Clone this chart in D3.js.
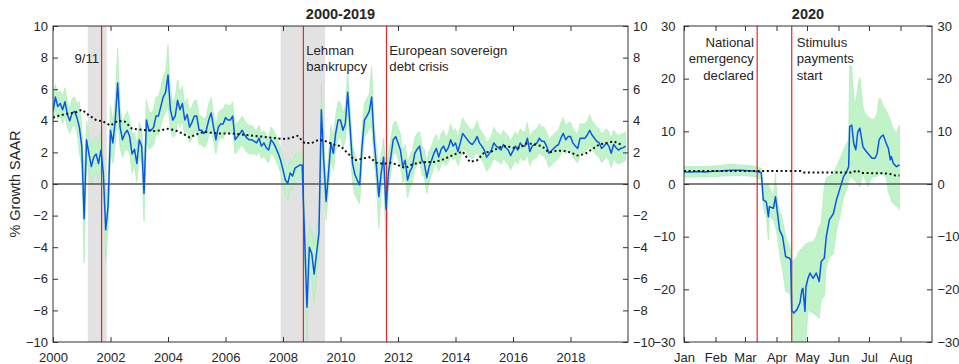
<!DOCTYPE html>
<html>
<head>
<meta charset="utf-8">
<script src="https://cdn.jsdelivr.net/npm/d3@7"></script>
<style>
  body { margin: 0; background: #fff; }
  text { font-family: "Liberation Sans", Arial, Helvetica, sans-serif; fill: #262626; }
</style>
</head>
<body>
<svg id="chart" width="959" height="364"></svg>
<script>
// ---- 2000-2019: monthly spending growth (% SAAR), Jan 2000 .. Dec 2019 ----
const firstYear = 2000;
const growthMonthly = [
  4.6, 5.5, 4.9, 5.1, 4.7, 5.2, 4.4, 4.0, 4.5, 4.6, 4.2, 3.6,
  2.4, -2.2, 2.8, 1.9, 1.1, 1.7, 1.9, 1.3, 2.15, 0.7, -2.9, -1.4,
  3.4, 2.6, 4.05, 6.4, 3.6, 2.8, 3.2, 3.4, 3.0, 1.9, 2.2, 1.3,
  2.8, 2.4, -0.6, 4.05, 3.4, 3.4, 3.6, 4.3, 4.3, 4.9, 5.5, 5.8,
  6.9, 4.7, 4.05, 4.3, 5.3, 4.7, 5.1, 4.05, 4.4, 3.6, 3.9, 4.3,
  4.3, 3.4, 3.4, 3.2, 3.4, 4.05, 4.5, 3.6, 2.8, 3.6, 3.8, 3.8,
  4.2, 4.05, 4.05, 4.3, 2.8, 3.0, 3.2, 3.4, 3.1, 2.9, 2.8, 2.8,
  2.7, 2.6, 2.9, 2.4, 2.6, 2.3, 2.15, 2.8, 2.6, 2.3, 1.94, 1.5,
  0.9, 0.25, 0.04, 0.7, 0.5, 1.0, 1.1, 1.2, 1.2, -3.3, -7.8, -4.0,
  -4.4, -5.7, -4.4, -3.1, 4.7, 1.5, -1.1, 0.7, 2.6, 1.94, 3.2, 4.05,
  4.05, 3.4, 3.8, 5.8, 3.6, 1.3, 0.6, 0.25, -0.06, 2.4, 4.05, 4.3,
  4.6, 5.5, 2.8, 1.1, -0.8, 0.7, 1.7, -1.6, 0.7, 1.7, 2.8, 3.0,
  2.6, 2.15, 1.1, 1.5, 0.25, 0.8, 1.1, 1.94, 2.2, 2.4, 1.5, 1.3,
  0.4, 1.1, 1.5, 1.94, 2.25, 1.7, 2.2, 2.4, 2.05, 2.3, 2.8, 2.4,
  2.6, 2.05, 2.6, 3.2, 3.0, 2.8, 2.6, 2.5, 2.7, 3.0, 2.6, 2.4,
  2.15, 1.7, 1.9, 2.15, 2.6, 2.4, 2.3, 2.15, 2.5, 2.3, 2.15, 1.8,
  2.1, 2.4, 2.15, 2.6, 2.4, 2.4, 2.9, 2.05, 2.4, 2.5, 2.6, 2.9,
  2.7, 2.7, 2.4, 1.94, 2.1, 2.25, 2.4, 2.5, 2.9, 3.2, 2.8, 3.0,
  3.0, 2.6, 2.4, 2.25, 2.9, 2.9, 2.9, 3.1, 3.4, 3.1, 2.9, 2.7,
  2.6, 2.25, 2.4, 2.6, 2.4, 1.94, 2.5, 2.3, 2.15, 2.25, 2.3, 2.4
];
// half-width of the confidence band around each monthly value
const bandHalfWidth = [
  0.9, 0.8, 0.8, 0.8, 0.9, 0.9, 0.8, 0.8, 0.9, 0.9, 0.9, 1.6,
  1.3, 2.8, 1.2, 1.1, 1.2, 1.2, 1.1, 1.2, 1.1, 1.2, 2.0, 1.5,
  1.5, 1.3, 1.5, 2.2, 1.3, 1.1, 1.1, 1.2, 1.1, 1.2, 1.1, 1.2,
  1.1, 1.1, 1.8, 1.3, 1.2, 1.1, 1.1, 1.2, 1.2, 1.2, 1.3, 1.3,
  1.9, 1.3, 1.1, 1.2, 1.3, 1.1, 1.1, 1.0, 1.0, 1.0, 1.0, 1.0,
  1.0, 0.9, 0.9, 0.9, 0.9, 1.0, 1.0, 0.9, 0.9, 0.9, 0.9, 0.9,
  0.9, 0.9, 0.9, 0.9, 0.9, 0.9, 0.9, 0.9, 0.9, 0.9, 0.9, 0.9,
  0.8, 0.8, 0.8, 0.8, 0.8, 0.8, 0.8, 0.8, 0.8, 0.8, 0.8, 0.8,
  0.9, 0.9, 1.0, 0.9, 0.9, 0.8, 0.8, 0.8, 0.9, 1.5, 2.2, 1.5,
  1.5, 1.8, 1.5, 1.4, 1.6, 1.4, 1.2, 1.2, 1.1, 1.1, 1.1, 1.2,
  1.1, 1.1, 1.1, 1.3, 1.2, 1.2, 1.3, 1.2, 1.2, 1.1, 1.1, 1.1,
  1.1, 1.9, 1.2, 1.2, 2.0, 1.2, 1.2, 2.6, 1.2, 1.1, 1.0, 1.0,
  1.0, 1.0, 1.0, 1.0, 1.1, 1.0, 1.0, 1.0, 1.0, 0.9, 0.9, 0.9,
  1.0, 1.0, 0.9, 0.9, 0.9, 0.9, 1.0, 1.0, 0.9, 0.9, 1.0, 0.9,
  0.9, 0.9, 1.0, 1.0, 0.9, 0.9, 0.9, 0.9, 0.9, 1.0, 0.9, 0.9,
  0.9, 0.9, 0.9, 0.9, 1.0, 0.9, 0.9, 0.9, 0.9, 0.9, 0.9, 0.9,
  0.9, 0.9, 0.9, 0.9, 0.9, 0.9, 1.0, 0.9, 0.9, 0.9, 0.9, 0.9,
  0.9, 0.9, 0.9, 0.9, 0.9, 0.9, 0.9, 0.9, 1.0, 1.0, 0.9, 0.9,
  0.9, 0.9, 0.9, 0.9, 0.9, 0.9, 0.9, 0.9, 1.0, 0.9, 0.9, 0.9,
  0.9, 0.9, 0.9, 0.9, 0.9, 0.9, 0.9, 0.9, 0.9, 0.9, 0.9, 0.9
];
// long-run trend (dotted), quarterly from 2000 Q1
const trendQuarterly = [
  4.2, 4.35, 4.45, 4.5,   4.7, 4.35, 4.05, 3.95,  3.7, 4.0, 3.95, 3.5,
  3.45, 3.4, 3.35, 3.4,   3.5, 3.4, 3.2, 2.95,    3.15, 3.3, 3.25, 3.2,
  3.2, 3.2, 3.15, 3.1,    3.05, 3.0, 2.95, 2.9,   2.85, 2.9, 3.05, 2.6,
  2.6, 2.8, 2.7, 2.5,     2.4, 1.95, 1.5, 1.6,    1.7, 1.35, 1.27, 1.35,
  1.2, 1.0, 1.25, 1.35,   1.4, 1.4, 1.5, 1.7,     1.9, 2.05, 1.4, 1.5,
  2.0, 2.05, 2.3, 2.4,    2.3, 2.3, 2.6, 2.5,     2.4, 2.0, 2.1, 2.1,
  2.0, 1.8, 1.9, 2.2,     2.5, 2.6, 2.7, 2.5
];
const recessions = [[2001.21, 2001.87], [2007.92, 2009.46]];
const events2000s = [
  { t: 2001.69, lines: ["9/11"], side: "left", y0: 63 },
  { t: 2008.71, lines: ["Lehman", "bankrupcy"], side: "right", y0: 54.5 },
  { t: 2011.60, lines: ["European sovereign", "debt crisis"], side: "right", y0: 54.5 }
];
const yearTicks = [2000, 2002, 2004, 2006, 2008, 2010, 2012, 2014, 2016, 2018];
const growthTicks = [-10, -8, -6, -4, -2, 0, 2, 4, 6, 8, 10];

// ---- 2020: daily-frequency readings ----
const dates2020 = [
  "01-01","01-08","01-15","01-22","01-29","02-05","02-12","02-19","02-26","03-04",
  "03-11","03-17","03-19","03-22","03-24","03-25","03-29","03-31","04-02","04-04",
  "04-07","04-10","04-14","04-15","04-16","04-18","04-21","04-24","04-26","04-27",
  "04-29","04-30","05-02","05-04","05-07","05-10","05-12","05-13","05-15","05-18",
  "05-20","05-23","05-27","05-30","06-03","06-06","06-09","06-11","06-12","06-14",
  "06-16","06-18","06-20","06-22","06-25","06-27","06-30","07-04","07-07","07-09",
  "07-11","07-13","07-15","07-18","07-20","07-22","07-23","07-25","07-28","07-31"
];
const growth2020 = [
  2.3, 2.3, 2.35, 2.3, 2.4, 2.45, 2.55, 2.6, 2.6, 2.5,
  2.4, 2.2, -3.0, -3.4, -6.2, -4.3, -4.6, -2.4, -5.6, -8.7,
  -10.0, -13.8, -14.1, -14.5, -24.0, -24.5, -23.9, -22.6, -20.1, -19.8,
  -24.2, -19.5, -17.9, -16.9, -17.9, -16.9, -17.9, -18.5, -14.7, -14.1,
  -10.0, -6.8, -5.6, -3.0, -0.5, 1.4, 2.3, 3.3, 10.9, 11.2,
  7.7, 6.5, 9.9, 10.6, 7.1, 6.5, 5.8, 4.9, 4.9, 5.8,
  8.4, 9.0, 9.3, 7.7, 6.8, 4.6, 5.2, 3.9, 3.3, 3.6
];
const lower2020 = [
  1.3, 1.3, 1.35, 1.3, 1.4, 1.45, 1.5, 1.6, 1.6, 1.5,
  1.4, 0.8, -4.5, -6.2, -10.6, -6.2, -6.8, -8.1, -10.0, -13.2,
  -16.3, -20.4, -20.8, -22.0, -30.0, -30.0, -30.0, -30.0, -30.0, -30.0,
  -30.0, -30.0, -23.9, -24.2, -24.5, -25.0, -25.3, -25.5, -22.0, -21.4,
  -15.7, -14.0, -13.2, -9.0, -5.6, -2.5, -1.1, 0.5, 1.4, 1.2,
  0.8, 0.5, 0.0, -0.5, 2.0, 1.0, -0.5, 1.4, 1.4, 1.4,
  1.8, 2.0, 1.8, 1.1, -1.5, -2.4, -3.4, -3.7, -4.2, -4.9
];
const upper2020 = [
  3.3, 3.3, 3.3, 3.3, 3.4, 3.5, 3.7, 3.7, 3.6, 3.5,
  3.4, 3.0, -0.5, 0.1, 0.0, -0.5, -2.4, 2.0, -3.5, -4.9,
  -6.8, -10.0, -11.9, -12.5, -15.0, -14.5, -13.8, -12.5, -12.3, -12.0,
  -11.5, -11.3, -11.2, -11.0, -11.0, -10.0, -8.5, -8.0, -7.5, -0.5,
  1.2, 1.5, 2.0, 3.3, 5.0, 6.5, 7.7, 8.5, 22.6, 22.3,
  16.6, 15.3, 18.5, 20.4, 14.7, 13.5, 12.8, 12.2, 12.5, 13.5,
  16.3, 16.0, 14.7, 14.0, 13.0, 12.2, 11.5, 10.5, 9.6, 11.2
];
const trendDates2020 = ["01-01", "04-25", "04-28", "06-15", "06-19", "06-24", "07-20", "07-27", "07-31"];
const trend2020 = [2.45, 2.45, 2.2, 2.2, 2.6, 2.1, 2.0, 1.6, 1.6];
const events2020 = [
  { date: "03-13", lines: ["National", "emergency", "declared"], side: "left" },
  { date: "04-16", lines: ["Stimulus", "payments", "start"], side: "right" }
];
const monthTicks = ["01-01","02-01","03-01","04-01","05-01","06-01","07-01","08-01"];
const monthLabels = ["Jan","Feb","Mar","Apr","May","Jun","Jul","Aug"];
const growthTicks2020 = [-30, -20, -10, 0, 10, 20, 30];

// ---- styling ----
const BLUE = "#0757e8", BAND = "#c0f4c8", SHADE = "#e2e2e2", RED = "#e8262a", AXIS = "#333333";
const FONT = 13;

const svg = d3.select("#chart");
const plotTop = 26, plotBottom = 342;
const parse = s => new Date("2020-" + s + "T00:00:00");

// ===================== left panel =====================
const xL = d3.scaleLinear().domain([2000, 2020]).range([53, 628]);
const yL = d3.scaleLinear().domain([-10, 10]).range([plotBottom, plotTop]);

svg.append("clipPath").attr("id", "clipL")
  .append("rect").attr("x", 53).attr("y", plotTop).attr("width", 575).attr("height", plotBottom - plotTop);
svg.append("clipPath").attr("id", "clipR")
  .append("rect").attr("x", 684).attr("y", plotTop).attr("width", 248).attr("height", plotBottom - plotTop);

const leftPanel = svg.append("g");
const plotL = leftPanel.append("g").attr("clip-path", "url(#clipL)");

plotL.selectAll("rect.rec").data(recessions).join("rect")
  .attr("x", d => xL(d[0])).attr("width", d => xL(d[1]) - xL(d[0]))
  .attr("y", plotTop).attr("height", plotBottom - plotTop).attr("fill", SHADE);

const monthly = growthMonthly.map((v, i) => ({ t: firstYear + i / 12, v, s: bandHalfWidth[i] }));
plotL.append("path").datum(monthly)
  .attr("fill", BAND).attr("stroke", "#a8eab4").attr("stroke-width", 0.6)
  .attr("d", d3.area().x(d => xL(d.t)).y0(d => yL(d.v - d.s)).y1(d => yL(d.v + d.s)));

plotL.append("line").attr("x1", 53).attr("x2", 628).attr("y1", yL(0)).attr("y2", yL(0))
  .attr("stroke", "#555").attr("stroke-width", 1.3);

plotL.selectAll("line.ev").data(events2000s).join("line")
  .attr("x1", d => xL(d.t)).attr("x2", d => xL(d.t)).attr("y1", plotTop).attr("y2", plotBottom)
  .attr("stroke", RED).attr("stroke-width", 1.2);

plotL.append("path").datum(monthly)
  .attr("fill", "none").attr("stroke", BLUE).attr("stroke-width", 1.5).attr("stroke-linejoin", "round")
  .attr("d", d3.line().x(d => xL(d.t)).y(d => yL(d.v)));

const trendL = trendQuarterly.map((v, i) => ({ t: firstYear + i / 4, v }));
plotL.append("path").datum(trendL)
  .attr("fill", "none").attr("stroke", "#111").attr("stroke-width", 2).attr("stroke-dasharray", "2,2.6")
  .attr("d", d3.line().x(d => xL(d.t)).y(d => yL(d.v)));

// annotations
events2000s.forEach(ev => {
  const x = ev.side === "left" ? xL(ev.t) - 2.5 : xL(ev.t) + 2.8;
  const t = leftPanel.append("text").attr("font-size", 13.2)
    .attr("text-anchor", ev.side === "left" ? "end" : "start");
  ev.lines.forEach((ln, k) => t.append("tspan").attr("x", x).attr("y", ev.y0 + k * 16.5).text(ln));
});

// axes (ticks point inward)
function styleAxis(g) {
  g.select(".domain").remove();
  g.selectAll(".tick line").attr("stroke", AXIS);
  g.selectAll(".tick text").attr("font-size", FONT).attr("fill", "#262626")
    .attr("font-family", "Liberation Sans, Arial, sans-serif");
}
leftPanel.append("g").attr("transform", `translate(0,${plotBottom})`)
  .call(d3.axisBottom(xL).tickValues(yearTicks).tickFormat(d3.format("d")).tickSize(-5).tickPadding(10.5))
  .call(styleAxis);
leftPanel.append("g").attr("transform", `translate(0,${plotTop})`)
  .call(d3.axisTop(xL).tickValues(yearTicks).tickFormat("").tickSize(-5))
  .call(styleAxis);
leftPanel.append("g").attr("transform", "translate(53,0)")
  .call(d3.axisLeft(yL).tickValues(growthTicks).tickSize(-5).tickPadding(5))
  .call(styleAxis);
leftPanel.append("g").attr("transform", "translate(628,0)")
  .call(d3.axisRight(yL).tickValues(growthTicks).tickSize(-5).tickPadding(5))
  .call(styleAxis);
leftPanel.append("rect").attr("x", 53).attr("y", plotTop).attr("width", 575).attr("height", plotBottom - plotTop)
  .attr("fill", "none").attr("stroke", AXIS).attr("stroke-width", 1);

leftPanel.append("text").attr("x", (53 + 628) / 2).attr("y", 18.5).attr("text-anchor", "middle")
  .attr("font-size", 14.5).attr("font-weight", "bold").attr("fill", "#111").text("2000-2019");

svg.append("text").attr("transform", `translate(20,${(plotTop + plotBottom) / 2}) rotate(-90)`)
  .attr("text-anchor", "middle").attr("font-size", 14.5).text("% Growth SAAR");

// ===================== right panel =====================
const xR = d3.scaleTime().domain([parse("01-01"), parse("09-01")]).range([684, 932]);
const yR = d3.scaleLinear().domain([-30, 30]).range([plotBottom, plotTop]);
const rightPanel = svg.append("g");
const plotR = rightPanel.append("g").attr("clip-path", "url(#clipR)");

const daily = dates2020.map((s, i) => ({ d: parse(s), v: growth2020[i], lo: lower2020[i], hi: upper2020[i] }));
plotR.append("path").datum(daily)
  .attr("fill", BAND).attr("stroke", "#a8eab4").attr("stroke-width", 0.6)
  .attr("d", d3.area().x(d => xR(d.d)).y0(d => yR(d.lo)).y1(d => yR(d.hi)));

plotR.append("line").attr("x1", 684).attr("x2", 932).attr("y1", yR(0)).attr("y2", yR(0))
  .attr("stroke", "#555").attr("stroke-width", 1.3);

plotR.selectAll("line.ev").data(events2020).join("line")
  .attr("x1", d => xR(parse(d.date))).attr("x2", d => xR(parse(d.date)))
  .attr("y1", plotTop).attr("y2", plotBottom).attr("stroke", RED).attr("stroke-width", 1.2);

plotR.append("path").datum(daily)
  .attr("fill", "none").attr("stroke", BLUE).attr("stroke-width", 1.5).attr("stroke-linejoin", "round")
  .attr("d", d3.line().x(d => xR(d.d)).y(d => yR(d.v)));

const trendR = trendDates2020.map((s, i) => ({ d: parse(s), v: trend2020[i] }));
plotR.append("path").datum(trendR)
  .attr("fill", "none").attr("stroke", "#111").attr("stroke-width", 2).attr("stroke-dasharray", "2,2.6")
  .attr("d", d3.line().x(d => xR(d.d)).y(d => yR(d.v)));

events2020.forEach(ev => {
  const ex = xR(parse(ev.date));
  const x = ev.side === "left" ? ex - 3.3 : ex + 5;
  const t = rightPanel.append("text").attr("font-size", 13.2)
    .attr("text-anchor", ev.side === "left" ? "end" : "start");
  ev.lines.forEach((ln, k) => t.append("tspan").attr("x", x).attr("y", 46.7 + k * 16.7).text(ln));
});

const monthTickDates = monthTicks.map(parse);
rightPanel.append("g").attr("transform", `translate(0,${plotBottom})`)
  .call(d3.axisBottom(xR).tickValues(monthTickDates).tickFormat((d, i) => monthLabels[i]).tickSize(-5).tickPadding(10.5))
  .call(styleAxis);
rightPanel.append("g").attr("transform", `translate(0,${plotTop})`)
  .call(d3.axisTop(xR).tickValues(monthTickDates).tickFormat("").tickSize(-5))
  .call(styleAxis);
rightPanel.append("g").attr("transform", "translate(684,0)")
  .call(d3.axisLeft(yR).tickValues(growthTicks2020).tickSize(-5).tickPadding(8.5))
  .call(styleAxis);
rightPanel.append("g").attr("transform", "translate(932,0)")
  .call(d3.axisRight(yR).tickValues(growthTicks2020).tickSize(-5).tickPadding(5.5))
  .call(styleAxis);
rightPanel.append("rect").attr("x", 684).attr("y", plotTop).attr("width", 248).attr("height", plotBottom - plotTop)
  .attr("fill", "none").attr("stroke", AXIS).attr("stroke-width", 1);

rightPanel.append("text").attr("x", 808).attr("y", 18.5).attr("text-anchor", "middle")
  .attr("font-size", 14.5).attr("font-weight", "bold").attr("fill", "#111").text("2020");
</script>
</body>
</html>
